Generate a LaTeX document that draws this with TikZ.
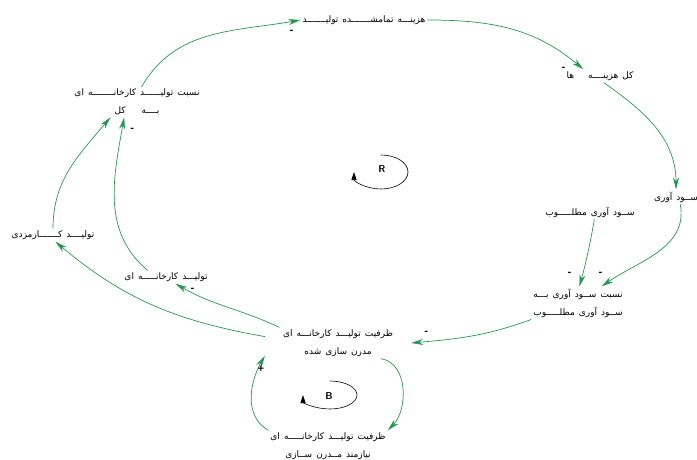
\documentclass[tikz,border=0pt]{standalone}
\usepackage{fontspec}
\newfontfamily\arabicfont[Script=Arabic]{DejaVu Sans}
\newfontfamily\signfont{DejaVu Sans}
\TeXXeTstate=1
\usetikzlibrary{arrows.meta}
\definecolor{linkgreen}{RGB}{40,150,80}

\begin{document}
\begin{tikzpicture}[x=1pt, y=1pt, line join=round, line cap=round,
  font=\fontsize{9}{18}\selectfont,
  var/.style={align=center, inner sep=2pt},
  link/.style={draw=linkgreen, line width=0.7pt, -{Stealth[length=12pt, width=6pt, fill=linkgreen]}},
  pol/.style={font=\signfont\bfseries\fontsize{9}{9}\selectfont, inner sep=0pt},
  loopsign/.style={font=\sffamily\bfseries\fontsize{10}{10}\selectfont},
  looparc/.style={draw=black, line width=0.6pt, -{Triangle[length=8pt, width=5pt]}}]
\def\fa#1{{\arabicfont\spaceskip=0.45em\beginR#1\endR}}
\useasboundingbox (0,0) rectangle (697,459);
\node[var] (hazine) at (364,439) {\fa{هزینـــه تمامشـــــــده تولیـــــــد}};
\node[var] (kol) at (600,383) {\fa{کل هزینــــه\hspace{14pt}ها}};
\node[var] (sood) at (676,262) {\fa{ســود آوری}};
\node[var] (matloob) at (590,247) {\fa{ســود آوری مطلـــــوب}};
\node[var] (nesbatsood) at (578,156) {\fa{نسبت ســود آوری بـــه}\\\fa{ســود آوری مطلـــــوب}};
\node[var, inner xsep=18pt] (modern) at (338,116) {\fa{ظرفیت تولیـــد کارخانـــه ای}\\\fa{مدرن سازی شده}};
\node[var] (niaz) at (328,13) {\fa{ظرفیت تولیـــد کارخانـــــه ای}\\\fa{نیازمند مــدرن ســازی}};
\node[var] (tolidkar) at (166,182) {\fa{تولیـــد کارخانـــــه ای}};
\node[var] (kar) at (53,224) {\fa{تولیــــد کـــــــارمزدی}};
\node[var] (nesbatkar) at (137,357) {\fa{نسبت تولیــــــد کارخانــــــــه ای}\\\fa{بــــه\hspace{16pt}کل}};
\draw[link] (nesbatkar.73) to[out=60, in=190] (hazine.west) node[pol, xshift=-9, yshift=-12] {-};
\draw[link] (hazine.east) to[out=0, in=140] (kol.158) node[pol, xshift=-20] {-};
\draw[link] (kol.-60) to[out=-35, in=90] (sood.north);
\draw[link] (sood.-60) to[out=-80, in=35] (nesbatsood.35) node[pol, xshift=-1, yshift=13] {-};
\draw[link] (matloob.-60) to[out=-100, in=75] (nesbatsood.85) node[pol, xshift=-10, yshift=13] {-};
\draw[link] (nesbatsood.south west) to[out=200, in=5] (modern.east) node[pol, xshift=15, yshift=10] {-};
\draw[link] (modern.-20) to[out=-10, in=45] (niaz.north east);
\draw[link] (niaz.north west) to[out=150, in=240] (modern.190) node[pol, xshift=-4, yshift=-13] {+};
\draw[link] (modern.165) to[out=155, in=-30] (tolidkar.-35) node[pol, xshift=17, yshift=-6] {-};
\draw[link] (modern.175) to[out=170, in=-40] (kar.-70);
\draw[link] (tolidkar.160) to[out=140, in=260] (nesbatkar.-130) node[pol, xshift=8, yshift=-13] {-};
\draw[link] (kar.north) to[out=90, in=230] (nesbatkar.-150);
\draw[looparc] (381,304) arc[start angle=90, end angle=-180, x radius=27, y radius=17];
\node[loopsign] (rloop) at (382,290) {R};
\draw[looparc] (330,78) arc[start angle=90, end angle=-180, x radius=27, y radius=14];
\node[loopsign] (bloop) at (329,63) {B};
\end{tikzpicture}
\end{document}
